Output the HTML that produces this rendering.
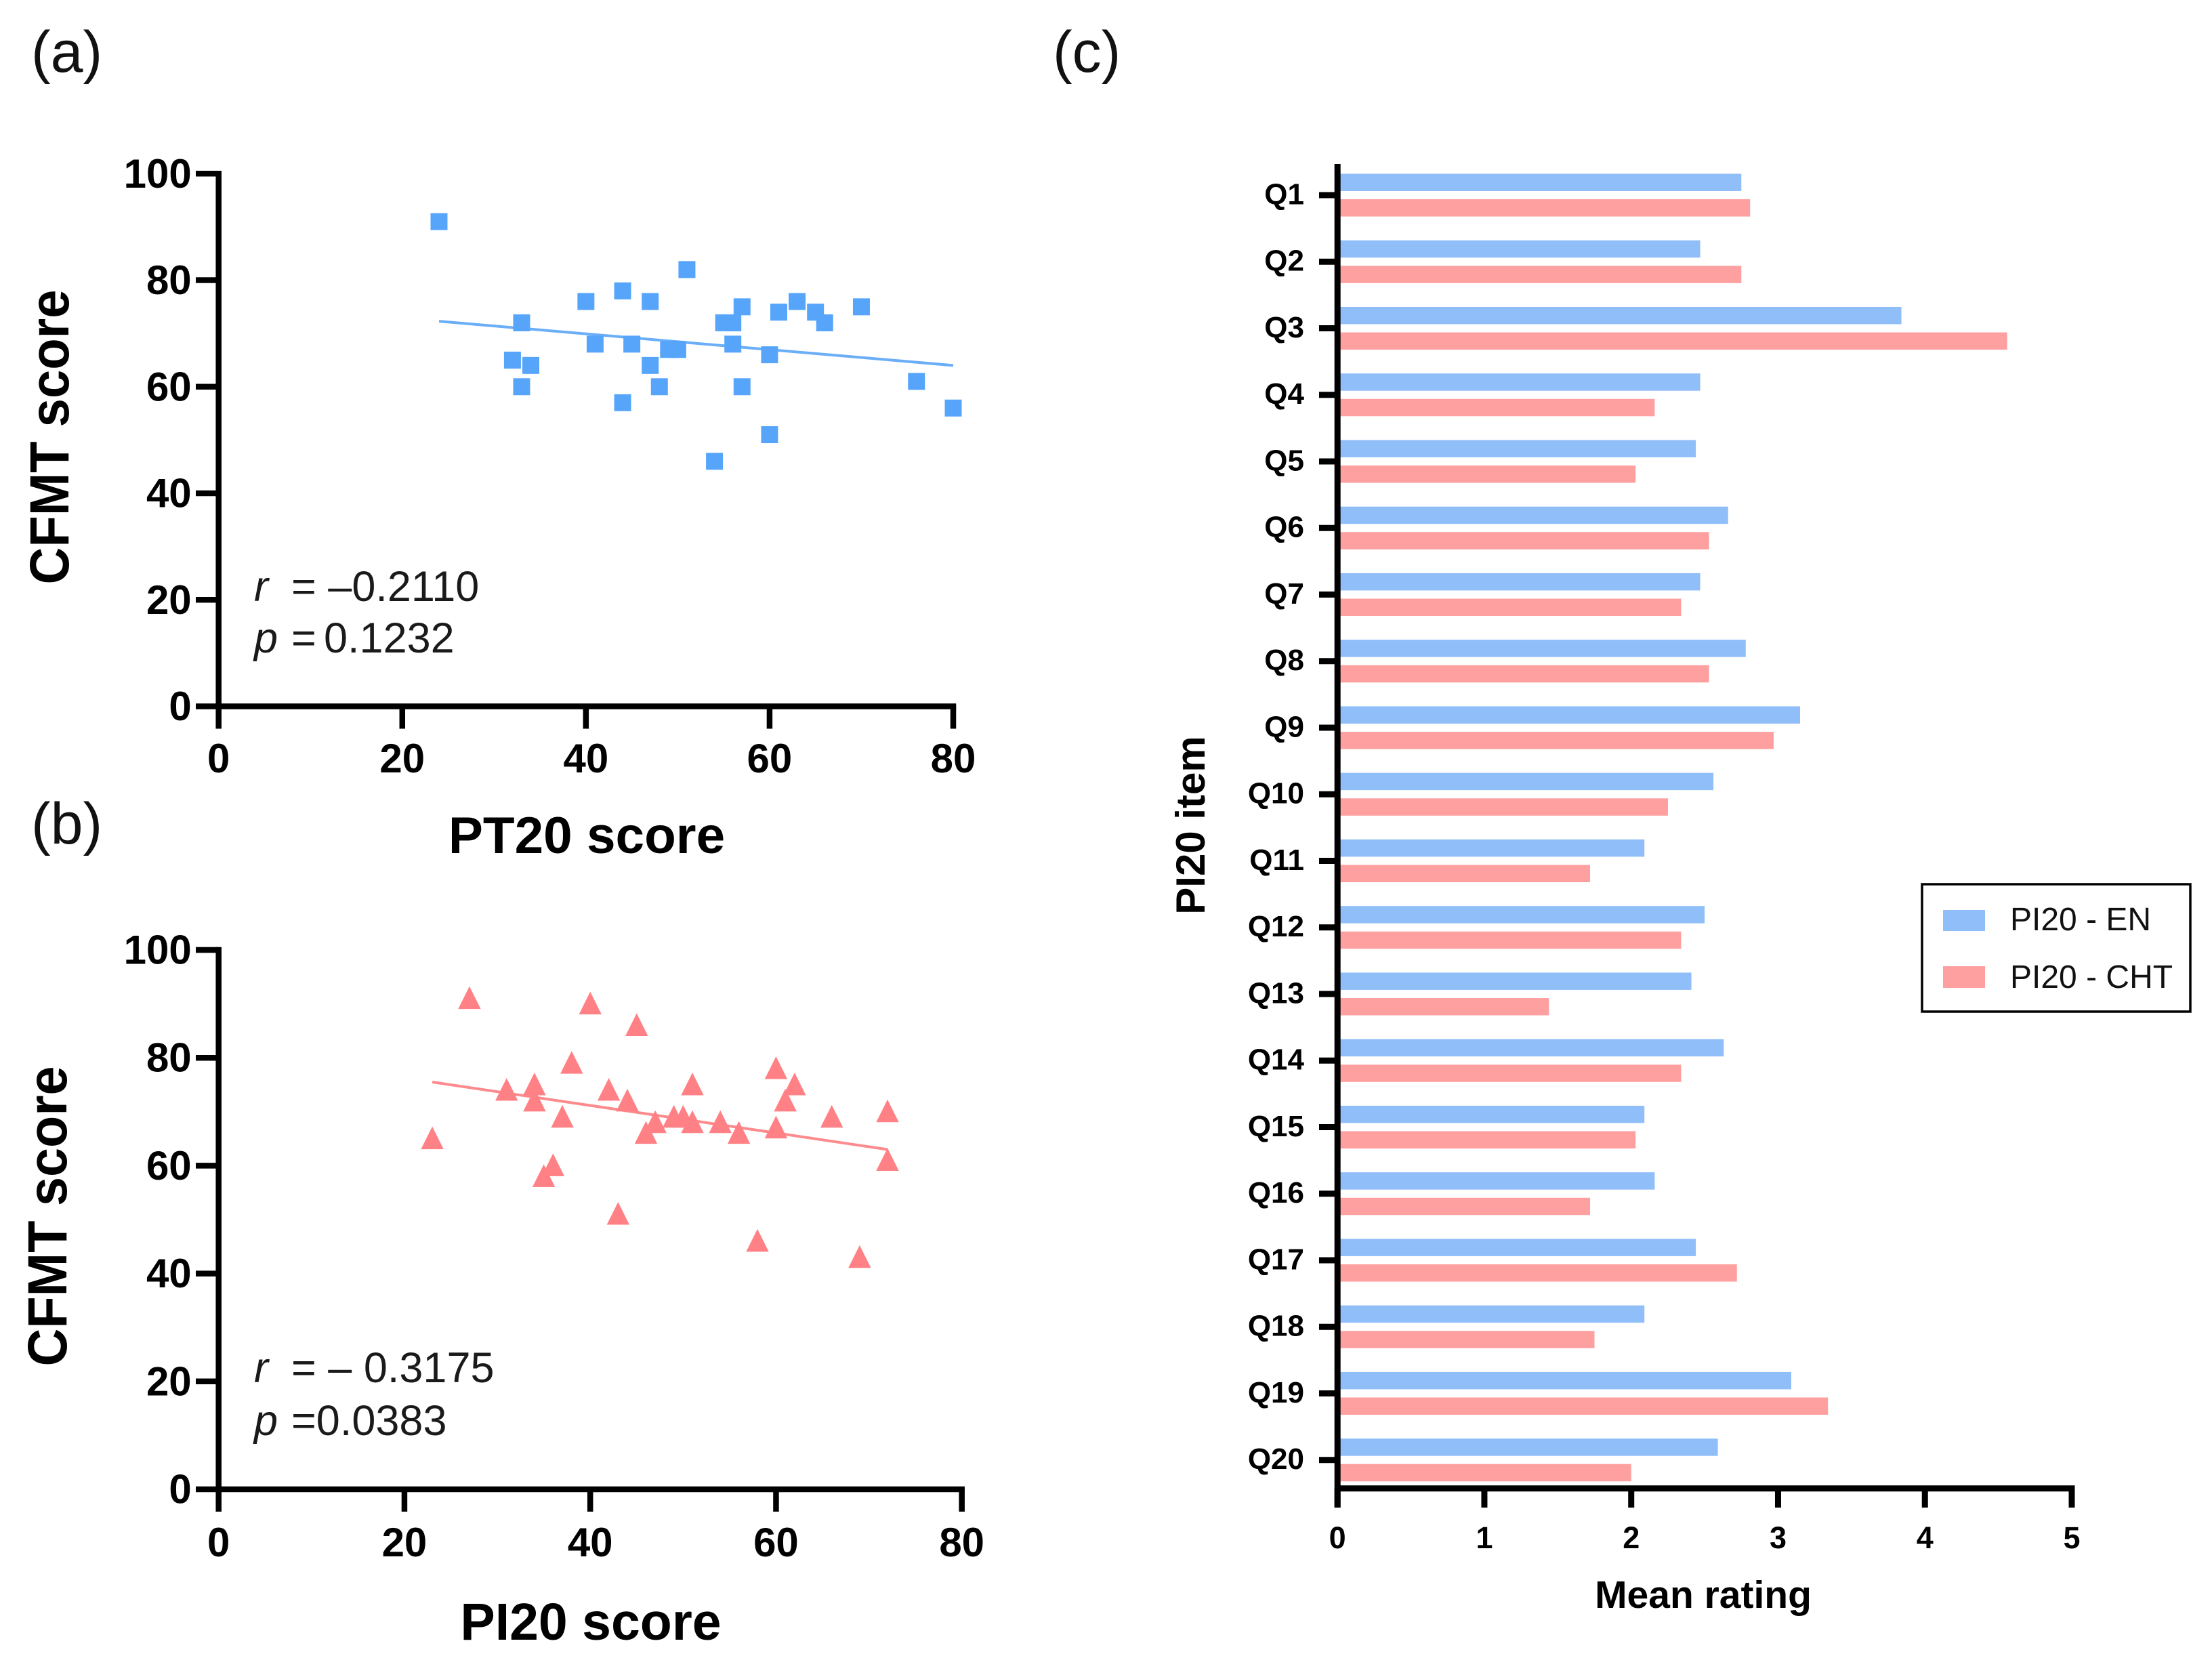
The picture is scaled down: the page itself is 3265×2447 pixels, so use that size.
<!DOCTYPE html>
<html lang="en">
<head>
<meta charset="utf-8">
<title>CFMT correlations and PI20 item ratings</title>
<style>
html,body{margin:0;padding:0;background:#fff;}
svg{display:block;font-family:"Liberation Sans",Arial,sans-serif;}
.tick{font-weight:700;fill:#000;}
.title{font-weight:700;fill:#000;}
.stat{font-size:63px;fill:#1a1a1a;}
.panel{font-size:86px;fill:#111;}
</style>
</head>
<body>
<svg id="figure" xmlns="http://www.w3.org/2000/svg" width="3265" height="2447" viewBox="0 0 3265 2447">
  <rect x="0" y="0" width="3265" height="2447" fill="#fff"/>
  <g id="chart-a"></g>
  <g id="chart-b"></g>
  <g id="chart-c"></g>

  <text class="panel" x="46" y="106">(a)</text>
  <text class="panel" x="46" y="1245">(b)</text>
  <text class="panel" x="1554" y="106">(c)</text>

  <text class="title" font-size="82" text-anchor="middle" textLength="435" lengthAdjust="spacingAndGlyphs" transform="translate(101 645) rotate(-90)">CFMT score</text>
  <text class="title" font-size="76.5" text-anchor="middle" x="866" y="1259">PT20 score</text>
  <text class="title" font-size="82" text-anchor="middle" textLength="443" lengthAdjust="spacingAndGlyphs" transform="translate(98 1795) rotate(-90)">CFMT score</text>
  <text class="title" font-size="77" text-anchor="middle" x="872" y="2420">PI20 score</text>
  <text class="title" font-size="60" text-anchor="middle" transform="translate(1778 1218) rotate(-90)">PI20 item</text>
  <text class="title" font-size="57" text-anchor="middle" x="2514" y="2373">Mean rating</text>

  <text class="stat" y="887"><tspan x="375" font-style="italic">r</tspan><tspan x="430">= –0.2110</tspan></text>
  <text class="stat" y="963"><tspan x="375" font-style="italic">p</tspan><tspan x="430">=</tspan><tspan x="478">0.1232</tspan></text>
  <text class="stat" y="2040"><tspan x="375" font-style="italic">r</tspan><tspan x="430">= – 0.3175</tspan></text>
  <text class="stat" y="2118"><tspan x="375" font-style="italic">p</tspan><tspan x="430">=0.0383</tspan></text>

  <g>
    <rect x="2837" y="1305" width="396" height="188" fill="#fff" stroke="#000" stroke-width="3.5"/>
    <rect x="2868" y="1343" width="62" height="31" fill="#90bef9"/>
    <rect x="2868" y="1426" width="62" height="32" fill="#fea0a0"/>
    <text x="2967" y="1373" font-size="48" fill="#111">PI20 - EN</text>
    <text x="2967" y="1458" font-size="48" fill="#111">PI20 - CHT</text>
  </g>
</svg>
<script>
// ---- Chart (a) data ----
const scatterAX = [24,33,32,33,34,40,41,44,44,45,47,47,48,49,50,51,54,55,56,56,57,57,60,60,61,63,65,66,70,76,80];
const scatterAY = [91,72,65,60,64,76,68,78,57,68,76,64,60,67,67,82,46,72,72,68,75,60,66,51,74,76,74,72,75,61,56];
const fitAX = [24,80];
const fitAY = [72.3,64];
const ticksAX = [0,20,40,60,80];
const ticksAY = [0,20,40,60,80,100];

// ---- Chart (b) data ----
const scatterBX = [27,40,45,38,60,31,34,34,42,44,51,62,61,37,47,46,49,50,51,54,56,60,66,72,72,23,36,35,43,58,69];
const scatterBY = [91,90,86,79,78,74,75,72,74,72,75,75,72,69,68,66,69,69,68,68,66,67,69,70,61,65,60,58,51,46,43];
const fitBX = [23,72];
const fitBY = [75.5,63];
const ticksBX = [0,20,40,60,80];
const ticksBY = [0,20,40,60,80,100];

// ---- Chart (c) data ----
const items = ['Q1','Q2','Q3','Q4','Q5','Q6','Q7','Q8','Q9','Q10','Q11','Q12','Q13','Q14','Q15','Q16','Q17','Q18','Q19','Q20'];
const ratingsEN = [2.75,2.47,3.84,2.47,2.44,2.66,2.47,2.78,3.15,2.56,2.09,2.50,2.41,2.63,2.09,2.16,2.44,2.09,3.09,2.59];
const ratingsCHT = [2.81,2.75,4.56,2.16,2.03,2.53,2.34,2.53,2.97,2.25,1.72,2.34,1.44,2.34,2.03,1.72,2.72,1.75,3.34,2.00];
const ticksC = [0,1,2,3,4,5];

const NS = 'http://www.w3.org/2000/svg';
function mk(tag, attrs, parent) {
  const el = document.createElementNS(NS, tag);
  for (const k in attrs) el.setAttribute(k, attrs[k]);
  parent.appendChild(el);
  return el;
}
function lin(d0, d1, r0, r1) {
  return function (v) { return r0 + (v - d0) * (r1 - r0) / (d1 - d0); };
}

function drawScatter(cfg) {
  const g = document.getElementById(cfg.id);
  const x = lin(0, 80, cfg.x0, cfg.x1);
  const y = lin(0, 100, cfg.y0, cfg.y1);
  const sw = 8.5;
  // fit line
  const fit = mk('line', {x1:x(cfg.fitX[0]), y1:y(cfg.fitY[0]), x2:x(cfg.fitX[1]), y2:y(cfg.fitY[1]), stroke:cfg.lineColor, 'stroke-width':4}, g);
  
  
  // markers
  cfg.xs.forEach(function (v, i) {
    const cx = x(v), cy = y(cfg.ys[i]);
    let m;
    if (cfg.marker === 'square') {
      m = mk('rect', {x:cx - 12.5, y:cy - 12.5, width:25, height:25, fill:cfg.color}, g);
    } else {
      m = mk('polygon', {points:(cx) + ',' + (cy - 18) + ' ' + (cx + 16.7) + ',' + (cy + 15.5) + ' ' + (cx - 16.7) + ',' + (cy + 15.5), fill:cfg.color}, g);
    }
    
    
  });
  // axes
  const ya = mk('line', {x1:cfg.x0, y1:cfg.y1 - sw / 2, x2:cfg.x0, y2:cfg.y0 + sw / 2, stroke:'#000', 'stroke-width':sw}, g);
  
  
  const xa = mk('line', {x1:cfg.x0 - sw / 2, y1:cfg.y0, x2:cfg.x1 + sw / 2, y2:cfg.y0, stroke:'#000', 'stroke-width':sw}, g);
  
  
  cfg.ticksY.forEach(function (t) {
    const tk = mk('line', {x1:cfg.x0 - 33.7, y1:y(t), x2:cfg.x0, y2:y(t), stroke:'#000', 'stroke-width':sw}, g);
    
    
    const lb = mk('text', {x:cfg.x0 - 40, y:y(t) + 20.5, 'font-size':60, 'text-anchor':'end', 'class':'tick'}, g);
    lb.textContent = t;
    
    
  });
  cfg.ticksX.forEach(function (t) {
    const tk = mk('line', {x1:x(t), y1:cfg.y0, x2:x(t), y2:cfg.y0 + 33, stroke:'#000', 'stroke-width':sw}, g);
    
    
    const lb = mk('text', {x:x(t), y:cfg.labelY, 'font-size':60, 'text-anchor':'middle', 'class':'tick'}, g);
    lb.textContent = t;
    
    
  });
}

drawScatter({id:'chart-a', x0:322.7, x1:1407, y0:1042.5, y1:256.3, xs:scatterAX, ys:scatterAY, fitX:fitAX, fitY:fitAY,
  ticksX:ticksAX, ticksY:ticksAY, marker:'square', color:'#56a5fb', lineColor:'#6aaef8', labelY:1140});
drawScatter({id:'chart-b', x0:322.7, x1:1419.7, y0:2198, y1:1402, xs:scatterBX, ys:scatterBY, fitX:fitBX, fitY:fitBY,
  ticksX:ticksBX, ticksY:ticksBY, marker:'triangle', color:'#ff8185', lineColor:'#fd8a8d', labelY:2297});

(function drawBars() {
  const g = document.getElementById('chart-c');
  const x0 = 1974.2, x5 = 3058, axisB = 2196.8, sw = 9;
  const x = lin(0, 5, x0, x5);
  const y = lin(0, items.length - 1, 288, 2154.7);
  const h = 25.5, off = 18.8;
  items.forEach(function (name, i) {
    const c = y(i);
    const a = mk('rect', {x:x0, y:c - off - h / 2, width:x(ratingsEN[i]) - x0, height:h, fill:'#90bef9'}, g);
    
    
    const b = mk('rect', {x:x0, y:c + off - h / 2, width:x(ratingsCHT[i]) - x0, height:h, fill:'#fea0a0'}, g);
    
    
    const tk = mk('line', {x1:1947, y1:c, x2:x0, y2:c, stroke:'#000', 'stroke-width':sw}, g);
    
    
    const lb = mk('text', {x:1925, y:c + 13.5, 'font-size':44, 'text-anchor':'end', 'class':'tick'}, g);
    lb.textContent = name;
    
    
  });
  const ya = mk('line', {x1:x0, y1:242, x2:x0, y2:2225, stroke:'#000', 'stroke-width':sw}, g);
  
  
  const xa = mk('line', {x1:x0, y1:axisB, x2:x5 + sw / 2, y2:axisB, stroke:'#000', 'stroke-width':sw}, g);
  
  
  ticksC.forEach(function (t) {
    const tk = mk('line', {x1:x(t), y1:axisB, x2:x(t), y2:2225, stroke:'#000', 'stroke-width':sw}, g);
    
    
    const lb = mk('text', {x:x(t), y:2285, 'font-size':45, 'text-anchor':'middle', 'class':'tick'}, g);
    lb.textContent = t;
    
    
  });
})();
</script>
</body>
</html>
